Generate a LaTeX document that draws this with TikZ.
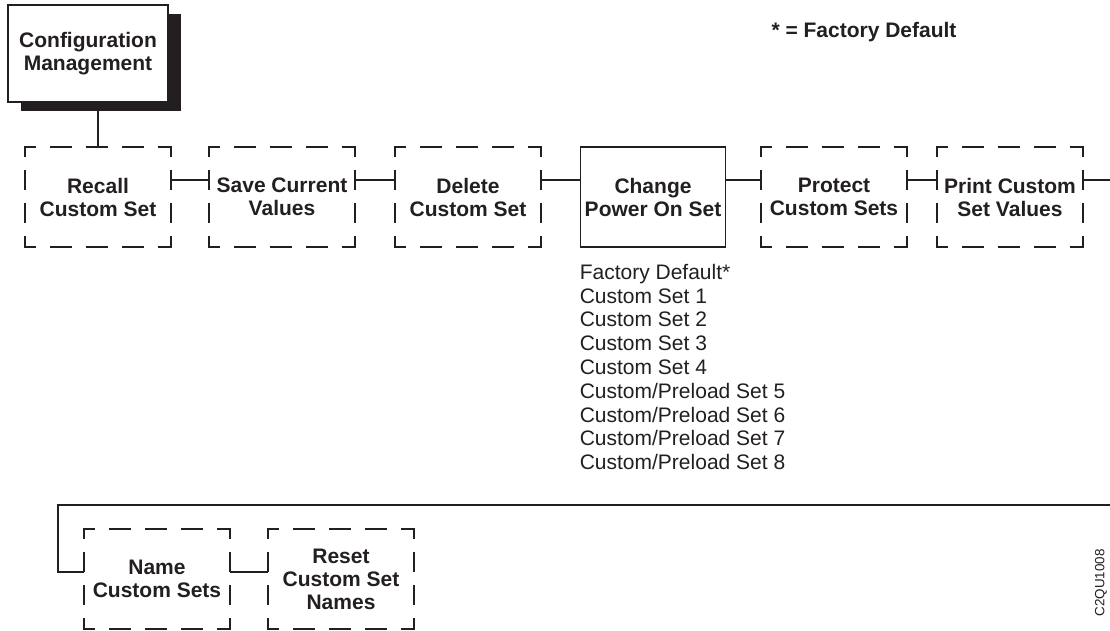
\documentclass[tikz,border=0pt]{standalone}
\usepackage{fontspec}
\setmainfont{Liberation Sans}
\usepackage{tikz}
\usetikzlibrary{shadows,positioning}

\definecolor{ink}{HTML}{231F20}

\begin{document}
\begin{tikzpicture}[
    x=1pt, y=-1pt,
    every node/.style={text=ink},
    topbox/.style={rectangle, draw=ink, fill=white, line width=1.8pt, minimum width=160pt, minimum height=97pt, inner sep=0pt, align=center, font=\bfseries\fontsize{21}{23}\selectfont, general shadow={fill=ink, shadow xshift=13pt, shadow yshift=-9pt}},
    menu/.style={rectangle, minimum width=145pt, minimum height=100pt, inner sep=0pt, align=center, font=\bfseries\fontsize{21}{23}\selectfont},
    solidmenu/.style={menu, draw=ink, line width=1.8pt},
    hdash/.style={draw=ink, line width=1.8pt, line cap=rect, dash pattern=on 20pt off 16pt, dash phase=10pt},
    vdash/.style={draw=ink, line width=1.8pt, line cap=rect, dash pattern=on 18pt off 15pt, dash phase=9pt},
    link/.style={draw=ink, line width=1.8pt},
    choices/.style={align=left, inner sep=0pt, font=\fontsize{21}{23.8}\selectfont}
]
\useasboundingbox (0,0) rectangle (1110,631);

% Legend
\node[font=\bfseries\fontsize{21}{23}\selectfont, anchor=base west] (legend) at (768,38) {* = Factory Default};

% Top of the menu
\node[topbox] (config) at (88,53.5) {Configuration\\Management};

% First row
\node[menu] (recall) at (98,197) {Recall\\Custom Set};
\node[menu] (save) at (282,197) {Save Current\\Values};
\node[menu] (delete) at (468,197) {Delete\\Custom Set};
\node[solidmenu] (change) at (653,197) {Change\\Power On Set};
\node[menu] (protect) at (834,197) {Protect\\Custom Sets};
\node[menu] (print) at (1010,197) {Print Custom\\Set Values};

% Power on choices
\node[choices, below right=16pt and 0pt of change.south west] (powerlist) {Factory Default*\\Custom Set 1\\Custom Set 2\\Custom Set 3\\Custom Set 4\\Custom/Preload Set 5\\Custom/Preload Set 6\\Custom/Preload Set 7\\Custom/Preload Set 8};

% Second row
\node[menu] (name) at (157,579) {Name\\Custom Sets};
\node[menu] (reset) at (341,579) {Reset\\Custom Set\\Names};

% Figure tag
\node[rotate=90, font=\fontsize{13.4}{15}\selectfont] (tag) at (1101,583) {C2QU1008};

% Dashed borders
\foreach \m in {recall,save,delete,protect,print,name,reset}{
    \draw[hdash] (\m.north west) -- (\m.north east);
    \draw[hdash] (\m.south west) -- (\m.south east);
    \draw[vdash] (\m.north west) -- (\m.south west);
    \draw[vdash] (\m.north east) -- (\m.south east);
}

% Connectors
\coordinate (railR) at (1110,180);
\coordinate (wrapR) at (1110,505);
\coordinate (wrapL) at (58,505);

\draw[link] (recall.north) -- (recall.north |- config.south);
\draw[link] ([yshift=17pt]recall.east) -- ([yshift=17pt]save.west);
\draw[link] ([yshift=17pt]save.east) -- ([yshift=17pt]delete.west);
\draw[link] ([yshift=17pt]delete.east) -- ([yshift=17pt]change.west);
\draw[link] ([yshift=17pt]change.east) -- ([yshift=17pt]protect.west);
\draw[link] ([yshift=17pt]protect.east) -- ([yshift=17pt]print.west);
\draw[link] ([yshift=17pt]print.east) -- (railR);
\draw[link] (wrapR) -- (wrapL) |- ([yshift=7pt]name.west);
\draw[link] ([yshift=7pt]name.east) -- ([yshift=7pt]reset.west);

\end{tikzpicture}
\end{document}
